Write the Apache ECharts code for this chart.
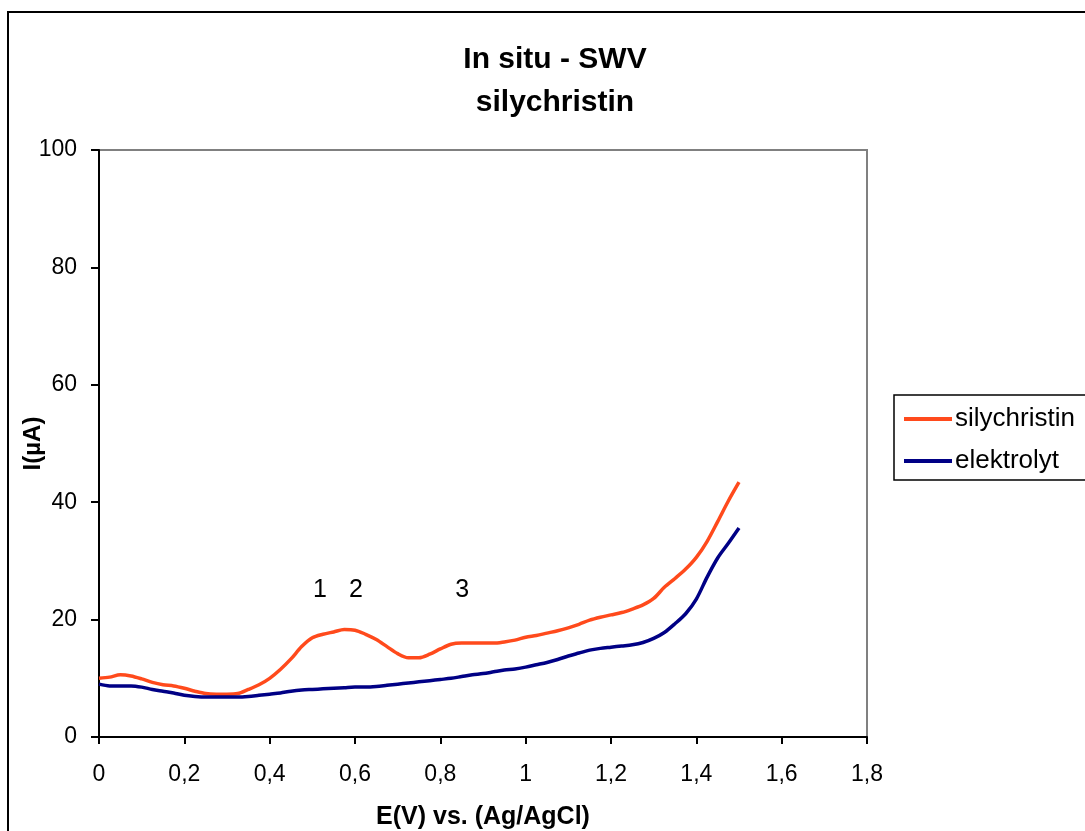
<!DOCTYPE html>
<html>
<head>
<meta charset="utf-8">
<style>
  html, body { margin: 0; padding: 0; background: #fff; }
  #chart { width: 1085px; height: 831px; }
</style>
<script src="https://cdn.jsdelivr.net/npm/echarts@6/dist/echarts.min.js"></script>
</head>
<body>
<div id="chart"></div>
<script>
// Potential E (V vs. Ag/AgCl)
var potential = [
  0, 0.025, 0.05, 0.075, 0.1, 0.125, 0.15, 0.175, 0.2, 0.225,
  0.25, 0.275, 0.3, 0.325, 0.35, 0.375, 0.4, 0.425, 0.45, 0.475,
  0.5, 0.525, 0.55, 0.575, 0.6, 0.625, 0.65, 0.675, 0.7, 0.725,
  0.75, 0.775, 0.8, 0.825, 0.85, 0.875, 0.9, 0.925, 0.95, 0.975,
  1.0, 1.025, 1.05, 1.075, 1.1, 1.125, 1.15, 1.175, 1.2, 1.225,
  1.25, 1.275, 1.3, 1.325, 1.35, 1.375, 1.4, 1.425, 1.45, 1.475, 1.5
];
// Current I (µA), silychristin
var silychristin = [
  10.0, 10.2, 10.6, 10.4, 9.9, 9.3, 8.9, 8.7, 8.3, 7.8,
  7.4, 7.3, 7.3, 7.4, 8.1, 8.9, 10.0, 11.5, 13.3, 15.4,
  16.9, 17.5, 17.9, 18.3, 18.2, 17.5, 16.6, 15.4, 14.2, 13.5,
  13.5, 14.1, 15.0, 15.8, 16.0, 16.0, 16.0, 16.0, 16.2, 16.5,
  17.0, 17.3, 17.7, 18.1, 18.6, 19.2, 19.9, 20.4, 20.8, 21.2,
  21.8, 22.5, 23.6, 25.5, 27.0, 28.6, 30.6, 33.3, 36.7, 40.2, 43.4
];
// Current I (µA), supporting electrolyte
var elektrolyt = [
  9.0, 8.7, 8.7, 8.7, 8.5, 8.1, 7.8, 7.5, 7.1, 6.9,
  6.8, 6.8, 6.8, 6.8, 6.9, 7.1, 7.3, 7.5, 7.8, 8.0,
  8.1, 8.2, 8.3, 8.4, 8.5, 8.5, 8.6, 8.8, 9.0, 9.2,
  9.4, 9.6, 9.8, 10.0, 10.3, 10.6, 10.8, 11.1, 11.4, 11.6,
  11.9, 12.3, 12.7, 13.2, 13.8, 14.3, 14.8, 15.1, 15.3, 15.5,
  15.7, 16.1, 16.8, 17.8, 19.3, 21.0, 23.5, 27.2, 30.5, 33.0, 35.6
];
// Peak markers
var peakLabels = ['1', '2', '3'];
var peakE = [0.518, 0.602, 0.851];
var peakI = [25.0, 25.0, 25.0];

function pairs(xs, ys) {
  return xs.map(function (x, i) { return [x, ys[i]]; });
}
function fmt(v) {
  return String(+v.toFixed(1)).replace('.', ',');
}

var FONT = '"Liberation Sans", Arial, sans-serif';
var chart = echarts.init(document.getElementById('chart'));

chart.setOption({
  animation: false,
  backgroundColor: '#fff',
  textStyle: { fontFamily: FONT },
  title: {
    text: 'In situ - SWV\nsilychristin',
    left: 550,
    top: 33,
    textAlign: 'center',
    textStyle: {
      fontFamily: FONT, fontWeight: 'bold', fontSize: 30,
      color: '#000', lineHeight: 43
    }
  },
  legend: {
    orient: 'vertical',
    left: 894,
    top: 395,
    padding: [11, 40, 6, 10],
    itemGap: 16,
    itemWidth: 48,
    itemHeight: 4,
    icon: 'rect',
    borderColor: '#000',
    borderWidth: 1.5,
    textStyle: { fontFamily: FONT, fontSize: 26, color: '#000', padding: [0, 0, 0, -2] },
    data: ['silychristin', 'elektrolyt']
  },
  grid: {
    left: 99, top: 150, width: 768, height: 587,
    show: true, borderColor: '#808080', borderWidth: 2,
    containLabel: false,
    outerBoundsMode: 'none'
  },
  xAxis: {
    type: 'value',
    min: 0, max: 1.8, interval: 0.2,
    name: 'E(V) vs. (Ag/AgCl)',
    nameLocation: 'middle',
    nameGap: 68,
    nameMoveOverlap: false,
    nameTextStyle: { fontFamily: FONT, fontWeight: 'bold', fontSize: 25, color: '#000' },
    axisLine: { onZero: false, lineStyle: { color: '#000', width: 2 } },
    axisTick: { show: true, inside: false, length: 7, lineStyle: { color: '#000', width: 2 } },
    axisLabel: { fontFamily: FONT, fontSize: 23, color: '#000', margin: 26, formatter: fmt },
    splitLine: { show: false }
  },
  yAxis: {
    type: 'value',
    min: 0, max: 100, interval: 20,
    name: 'I(µA)',
    nameLocation: 'middle',
    nameGap: 54,
    nameMoveOverlap: false,
    nameRotate: 90,
    nameTextStyle: { fontFamily: FONT, fontWeight: 'bold', fontSize: 24, color: '#000' },
    axisLine: { show: true, onZero: false, lineStyle: { color: '#000', width: 2 } },
    axisTick: { show: true, inside: false, length: 8, lineStyle: { color: '#000', width: 2 } },
    axisLabel: { fontFamily: FONT, fontSize: 23, color: '#000', margin: 22 },
    splitLine: { show: false }
  },
  series: [
    {
      name: 'silychristin',
      type: 'line',
      data: pairs(potential, silychristin),
      showSymbol: false,
      smooth: 0.3,
      color: '#FF4A1C',
      lineStyle: { color: '#FF4A1C', width: 3.5 }
    },
    {
      name: 'elektrolyt',
      type: 'line',
      data: pairs(potential, elektrolyt),
      showSymbol: false,
      smooth: 0.3,
      color: '#000085',
      lineStyle: { color: '#000085', width: 3.5 }
    }
  ]
});

// Outer frame and peak numbers, placed through the chart's own coordinate system
var extras = [{
  type: 'rect',
  shape: { x: 8, y: 12, width: 1200, height: 1000 },
  style: { fill: 'none', stroke: '#000', lineWidth: 2 },
  silent: true
}];
peakLabels.forEach(function (txt, i) {
  var p = chart.convertToPixel({ gridIndex: 0 }, [peakE[i], peakI[i]]);
  extras.push({
    type: 'text',
    x: p[0], y: p[1],
    silent: true,
    style: {
      text: txt, fill: '#000',
      font: '25px ' + FONT,
      align: 'center', verticalAlign: 'middle'
    }
  });
});
chart.setOption({ graphic: extras });
</script>
</body>
</html>
